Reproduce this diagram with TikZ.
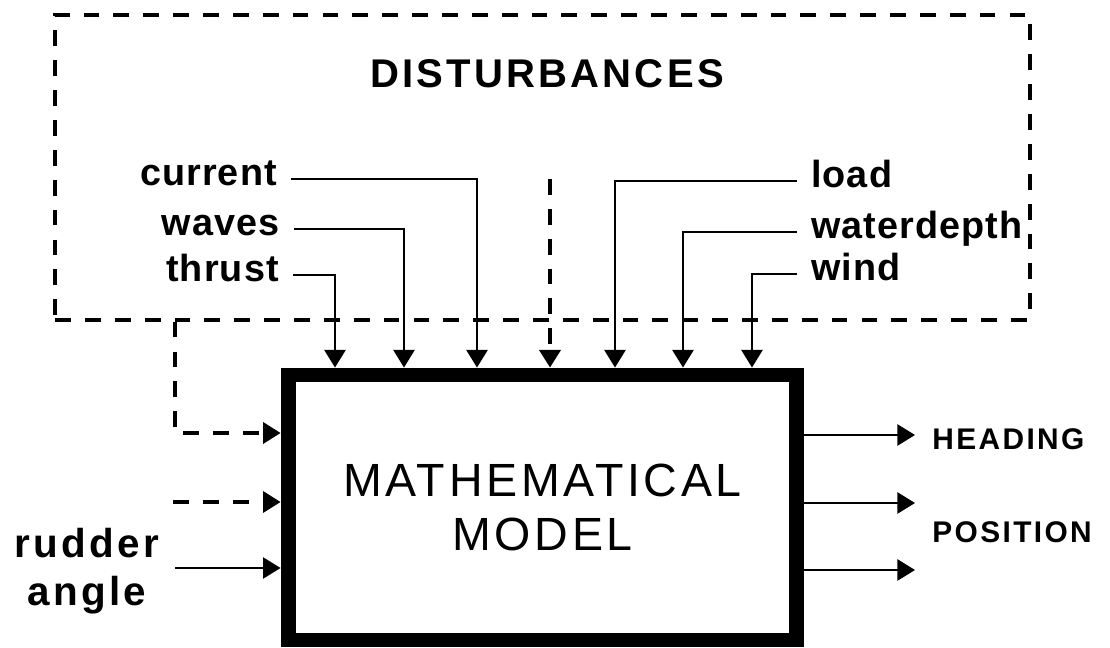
\documentclass[tikz,border=0pt]{standalone}
\usepackage{fontspec}
\setmainfont{Liberation Sans}
\newfontfamily\widefont[LetterSpace=8]{Liberation Sans}
\newfontfamily\labfont[LetterSpace=3]{Liberation Sans}
\usetikzlibrary{positioning,arrows.meta}

\tikzset{
  sline/.style={line width=1.2pt},
  dline/.style={line width=1.9pt, dash pattern=on 9pt off 8pt},
  lbl/.style={font=\labfont\bfseries\fontsize{21.5}{25}\selectfont,
    inner sep=0pt, outer sep=8pt, text height=7pt, text depth=0pt},
  outl/.style={font=\widefont\bfseries\fontsize{17}{20}\selectfont, inner sep=0pt},
}

\begin{document}
\begin{tikzpicture}[x=0.02cm,y=-0.02cm,>={Triangle[length=10pt,width=12pt]}]
\useasboundingbox (0,0) rectangle (1110,648);

% disturbances block
\node[draw,dline,minimum width=19.5cm,minimum height=6.1cm,inner sep=0pt] (dist) at (542.5,167.5) {};
\node[font=\widefont\bfseries\fontsize{22.8}{26}\selectfont] (title) at (547,74) {DISTURBANCES};

% the model
\node[draw,line width=8.5pt,minimum width=10.18cm,minimum height=5.3cm,align=center,
  font=\widefont\fontsize{26.5}{31}\selectfont] (model) at (542.5,507.5) {MATHEMATICAL\\MODEL};

% disturbance labels
\node[lbl,anchor=east] (cur) at (291,179) {current};
\node[lbl,anchor=east] (wav) at (294,229) {waves};
\node[lbl,anchor=east] (thr) at (293,275) {thrust};
\node[lbl,anchor=west] (load) at (797,181) {load};
\node[lbl,anchor=west] (wd) at (797,232) {waterdepth};
\node[lbl,anchor=west] (wind) at (797,274) {wind};

\foreach \nm/\xx in {i1/335,i2/404,i3/477,i4/550,i5/615,i6/683,i7/752}
  \coordinate (\nm) at (\xx,179);
\foreach \src/\dst in {thr/i1,wav/i2,cur/i3,load/i5,wd/i6,wind/i7}
  \draw[sline,->] (\src) -| (model.north -| \dst);
\draw[dline,->] (i4) -- (model.north -| i4);

% inputs on the left
\node[font=\widefont\bfseries\fontsize{23}{27}\selectfont,align=center] (rud) at (87,571) {rudder\\angle};
\coordinate (l1) at (175,433);
\coordinate (l2) at (173,502);
\coordinate (l3) at (175,568);
\draw[dline,->] (dist.south -| l1) |- (model.west |- l1);
\draw[dline,->] (l2) -- (model.west |- l2);
\draw[sline,->] (l3) -- (model.west |- l3);

% outputs
\foreach \nm/\yy in {o1/435,o2/503,o3/570}
  \coordinate (\nm) at (915,\yy);
\foreach \nm in {o1,o2,o3}
  \draw[sline,->] (model.east |- \nm) -- (\nm);
\node[outl,anchor=west] (head) at (932,439) {HEADING};
\node[outl,anchor=west] (pos) at (932,532) {POSITION};
\end{tikzpicture}
\end{document}
